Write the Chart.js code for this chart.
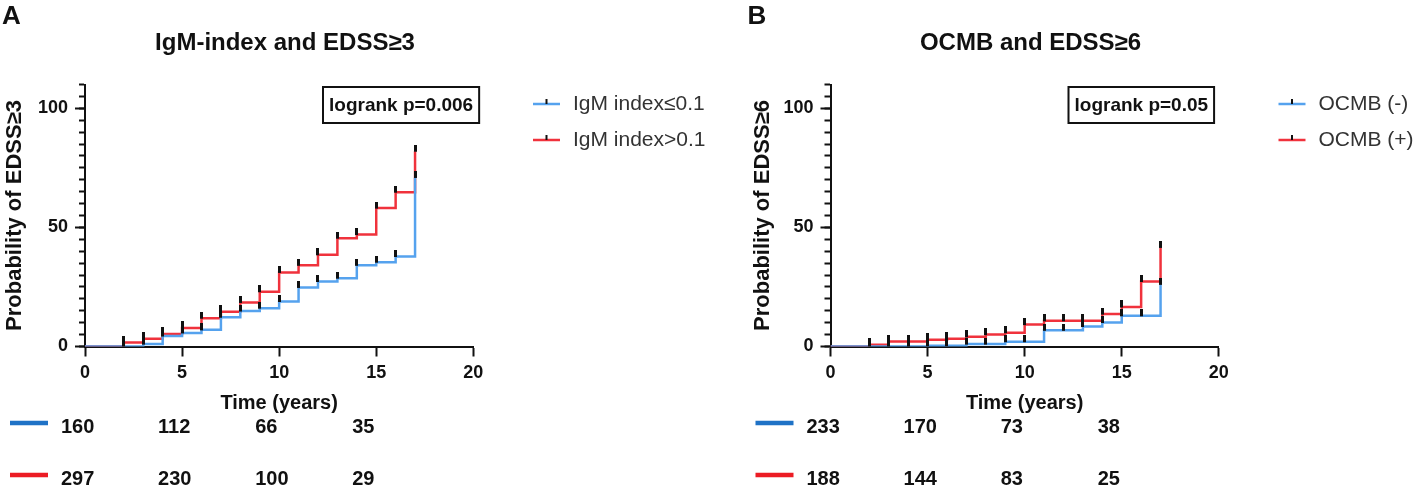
<!DOCTYPE html>
<html>
<head>
<meta charset="utf-8">
<script src="https://cdn.jsdelivr.net/npm/chart.js@4.4.1/dist/chart.umd.min.js"></script>
<style>
html,body{margin:0;padding:0;background:#fff;}
#wrap{display:flex;width:1418px;height:500px;}
canvas{display:block;}
</style>
</head>
<body>
<div id="wrap"><canvas id="cA" width="709" height="500"></canvas><canvas id="cB" width="709" height="500"></canvas></div>
<script>
// ---- data ----
const stepYears = [0, 2, 3, 4, 5, 6, 7, 8, 9, 10, 11, 12, 13, 14, 15, 16, 17];
const igmLowValues  = [0, 0, 1.0, 4.4, 5.7, 7.0, 12.3, 14.9, 16.1, 18.9, 24.8, 27.3, 28.7, 34.1, 35.4, 37.8, 71.0];
const igmHighValues = [0, 1.7, 3.3, 5.3, 7.8, 11.9, 14.6, 18.5, 23.0, 31.1, 34.1, 38.5, 45.5, 47.0, 58.1, 64.8, 82.0];
const ocmbNegValues = [0, 0, 0, 0, 0.3, 0.3, 1.0, 1.0, 2.0, 2.0, 6.8, 6.8, 8.4, 10.1, 12.9, 12.9, 26.1];
const ocmbPosValues = [0, 0.7, 2.1, 2.1, 2.8, 3.3, 4.1, 5.0, 5.8, 9.2, 10.8, 10.8, 10.8, 13.6, 16.6, 27.3, 41.6];
const riskTimes = [0, 5, 10, 15];
const igmLowAtRisk  = [160, 112, 66, 35];
const igmHighAtRisk = [297, 230, 100, 29];
const ocmbNegAtRisk = [233, 170, 73, 38];
const ocmbPosAtRisk = [188, 144, 83, 25];
const xTickStep = 5;
const yMajorStep = 50;
const yMinorStep = 5;

// ---- styles ----
const FONT = 'Arial, "Liberation Sans", sans-serif';
const INK = '#111111';
const BLUE = '#55a2ee';
const RED = '#f0323c';
const BLUE_BAR = '#1f72c6';
const RED_BAR = '#ec1c24';

function makeMark() {
  const c = document.createElement('canvas');
  c.width = 3; c.height = 13;
  const g = c.getContext('2d');
  g.fillStyle = INK;
  g.fillRect(0, 0, 3, 7);
  return c;
}
const MARK = makeMark();

function pts(vals) { return stepYears.map((t, i) => ({ x: t, y: vals[i] })); }
function censorPts(vals) { return pts(vals).slice(1); }

const annot = {
  id: 'annot',
  afterDraw(chart, args, o) {
    const ctx = chart.ctx;
    const L = chart.chartArea.left;
    const xs = chart.scales.x;
    ctx.save();
    ctx.fillStyle = INK;
    ctx.textBaseline = 'alphabetic';
    ctx.textAlign = 'left';
    ctx.font = 'bold 26px ' + FONT;
    ctx.fillText(o.letter, L - 83, 24);
    ctx.textAlign = 'center';
    ctx.font = 'bold 24px ' + FONT;
    ctx.fillText(o.title, L + 200, 50);

    // logrank box
    ctx.font = 'bold 19px ' + FONT;
    const tw = ctx.measureText(o.logrank).width;
    const bx = L + 238, by = 87, bw = tw + 12, bh = 36;
    ctx.lineWidth = 2;
    ctx.strokeStyle = INK;
    ctx.strokeRect(bx, by, bw, bh);
    ctx.textAlign = 'left';
    ctx.textBaseline = 'middle';
    ctx.fillText(o.logrank, bx + 6, by + bh / 2 + 1);

    // legend
    const lx = L + 448;
    o.legend.forEach((lab, i) => {
      const y = 104 + i * 36;
      ctx.strokeStyle = o.colors[i];
      ctx.lineWidth = 2.5;
      ctx.beginPath(); ctx.moveTo(lx, y); ctx.lineTo(lx + 27, y); ctx.stroke();
      ctx.strokeStyle = INK; ctx.lineWidth = 2;
      ctx.beginPath(); ctx.moveTo(lx + 13.5, y - 5); ctx.lineTo(lx + 13.5, y); ctx.stroke();
      ctx.fillStyle = '#333';
      ctx.font = '21px ' + FONT;
      ctx.textAlign = 'left';
      ctx.textBaseline = 'middle';
      ctx.fillText(lab, lx + 40, y);
    });

    // numbers at risk
    o.risk.forEach((row, i) => {
      const y = i === 0 ? 427 : 479;
      ctx.strokeStyle = o.barColors[i];
      ctx.lineWidth = 4.5;
      ctx.beginPath(); ctx.moveTo(L - 75, y - 4); ctx.lineTo(L - 37, y - 4); ctx.stroke();
      ctx.fillStyle = INK;
      ctx.font = 'bold 20px ' + FONT;
      ctx.textAlign = 'left';
      ctx.textBaseline = 'middle';
      row.forEach((n, j) => {
        ctx.fillText(String(n), xs.getPixelForValue(riskTimes[j]) - 24, y);
      });
    });
    ctx.restore();
  }
};

function makeChart(id, cfg) {
  const lineDs = (label, vals, color) => ({
    label, data: pts(vals), borderColor: color, borderWidth: 2.5, stepped: 'before',
    pointRadius: 0, fill: false, tension: 0, borderCapStyle: 'butt', borderJoinStyle: 'miter'
  });
  const markDs = (vals) => ({
    label: 'censored', data: censorPts(vals), showLine: false, pointStyle: MARK,
    pointRadius: 3, pointHoverRadius: 3, borderColor: INK, backgroundColor: INK
  });
  return new Chart(document.getElementById(id), {
    type: 'line',
    data: {
      datasets: [
        markDs(cfg.series[0]),
        markDs(cfg.series[1]),
        lineDs(cfg.labels[0], cfg.series[0], BLUE),
        lineDs(cfg.labels[1], cfg.series[1], RED)
      ]
    },
    options: {
      responsive: false,
      animation: false,
      devicePixelRatio: 1,
      layout: { padding: cfg.padding },
      plugins: {
        legend: { display: false },
        tooltip: { enabled: false },
        annot: {
          letter: cfg.letter, title: cfg.title, logrank: cfg.logrank,
          legend: cfg.labels, colors: [BLUE, RED], barColors: [BLUE_BAR, RED_BAR],
          risk: cfg.risk
        }
      },
      scales: {
        x: {
          type: 'linear', min: 0, max: 20,
          ticks: { stepSize: xTickStep, color: INK, font: { family: FONT, size: 18, weight: 'bold' }, padding: 6, maxRotation: 0 },
          grid: { drawOnChartArea: false, drawTicks: true, tickLength: 10, tickWidth: 2, tickColor: INK },
          border: { display: true, color: INK, width: 2 },
          title: { display: true, text: 'Time (years)', color: INK, font: { family: FONT, size: 20, weight: 'bold' }, padding: { top: 0, bottom: 1.5 } },
          afterFit(s) { s.height = 70; }
        },
        y: {
          type: 'linear', position: 'left', weight: 1, min: 0, max: 110,
          ticks: { stepSize: yMajorStep, includeBounds: false, color: INK, font: { family: FONT, size: 18, weight: 'bold' }, padding: 7 },
          grid: { drawOnChartArea: false, drawTicks: true, tickLength: 10, tickWidth: 2, tickColor: INK },
          border: { display: true, color: INK, width: 2 },
          title: { display: true, text: cfg.yTitle, color: INK, font: { family: FONT, size: 22, weight: 'bold' }, padding: { top: 1.5, bottom: 0 } },
          afterFit(s) { s.width = cfg.yWidth; }
        },
        yMinor: {
          type: 'linear', position: 'left', weight: 0, min: 0, max: 110,
          ticks: { display: false, stepSize: yMinorStep },
          grid: { drawOnChartArea: false, drawTicks: true, tickLength: 6, tickWidth: 2, tickColor: INK },
          border: { display: true, color: INK, width: 2 },
          afterFit(s) { s.width = 0; }
        }
      }
    },
    plugins: [annot]
  });
}

makeChart('cA', {
  letter: 'A', title: 'IgM-index and EDSS≥3', logrank: 'logrank p=0.006',
  labels: ['IgM index≤0.1', 'IgM index>0.1'],
  series: [igmLowValues, igmHighValues],
  risk: [igmLowAtRisk, igmHighAtRisk],
  yTitle: 'Probability of EDSS≥3',
  padding: { left: 0, right: 235.7, top: 84.5, bottom: 83.5 }, yWidth: 85
});
makeChart('cB', {
  letter: 'B', title: 'OCMB and EDSS≥6', logrank: 'logrank p=0.05',
  labels: ['OCMB (-)', 'OCMB (+)'],
  series: [ocmbNegValues, ocmbPosValues],
  risk: [ocmbNegAtRisk, ocmbPosAtRisk],
  yTitle: 'Probability of EDSS≥6',
  padding: { left: 39, right: 199.2, top: 84.5, bottom: 83.5 }, yWidth: 82.5
});
</script>
</body>
</html>
